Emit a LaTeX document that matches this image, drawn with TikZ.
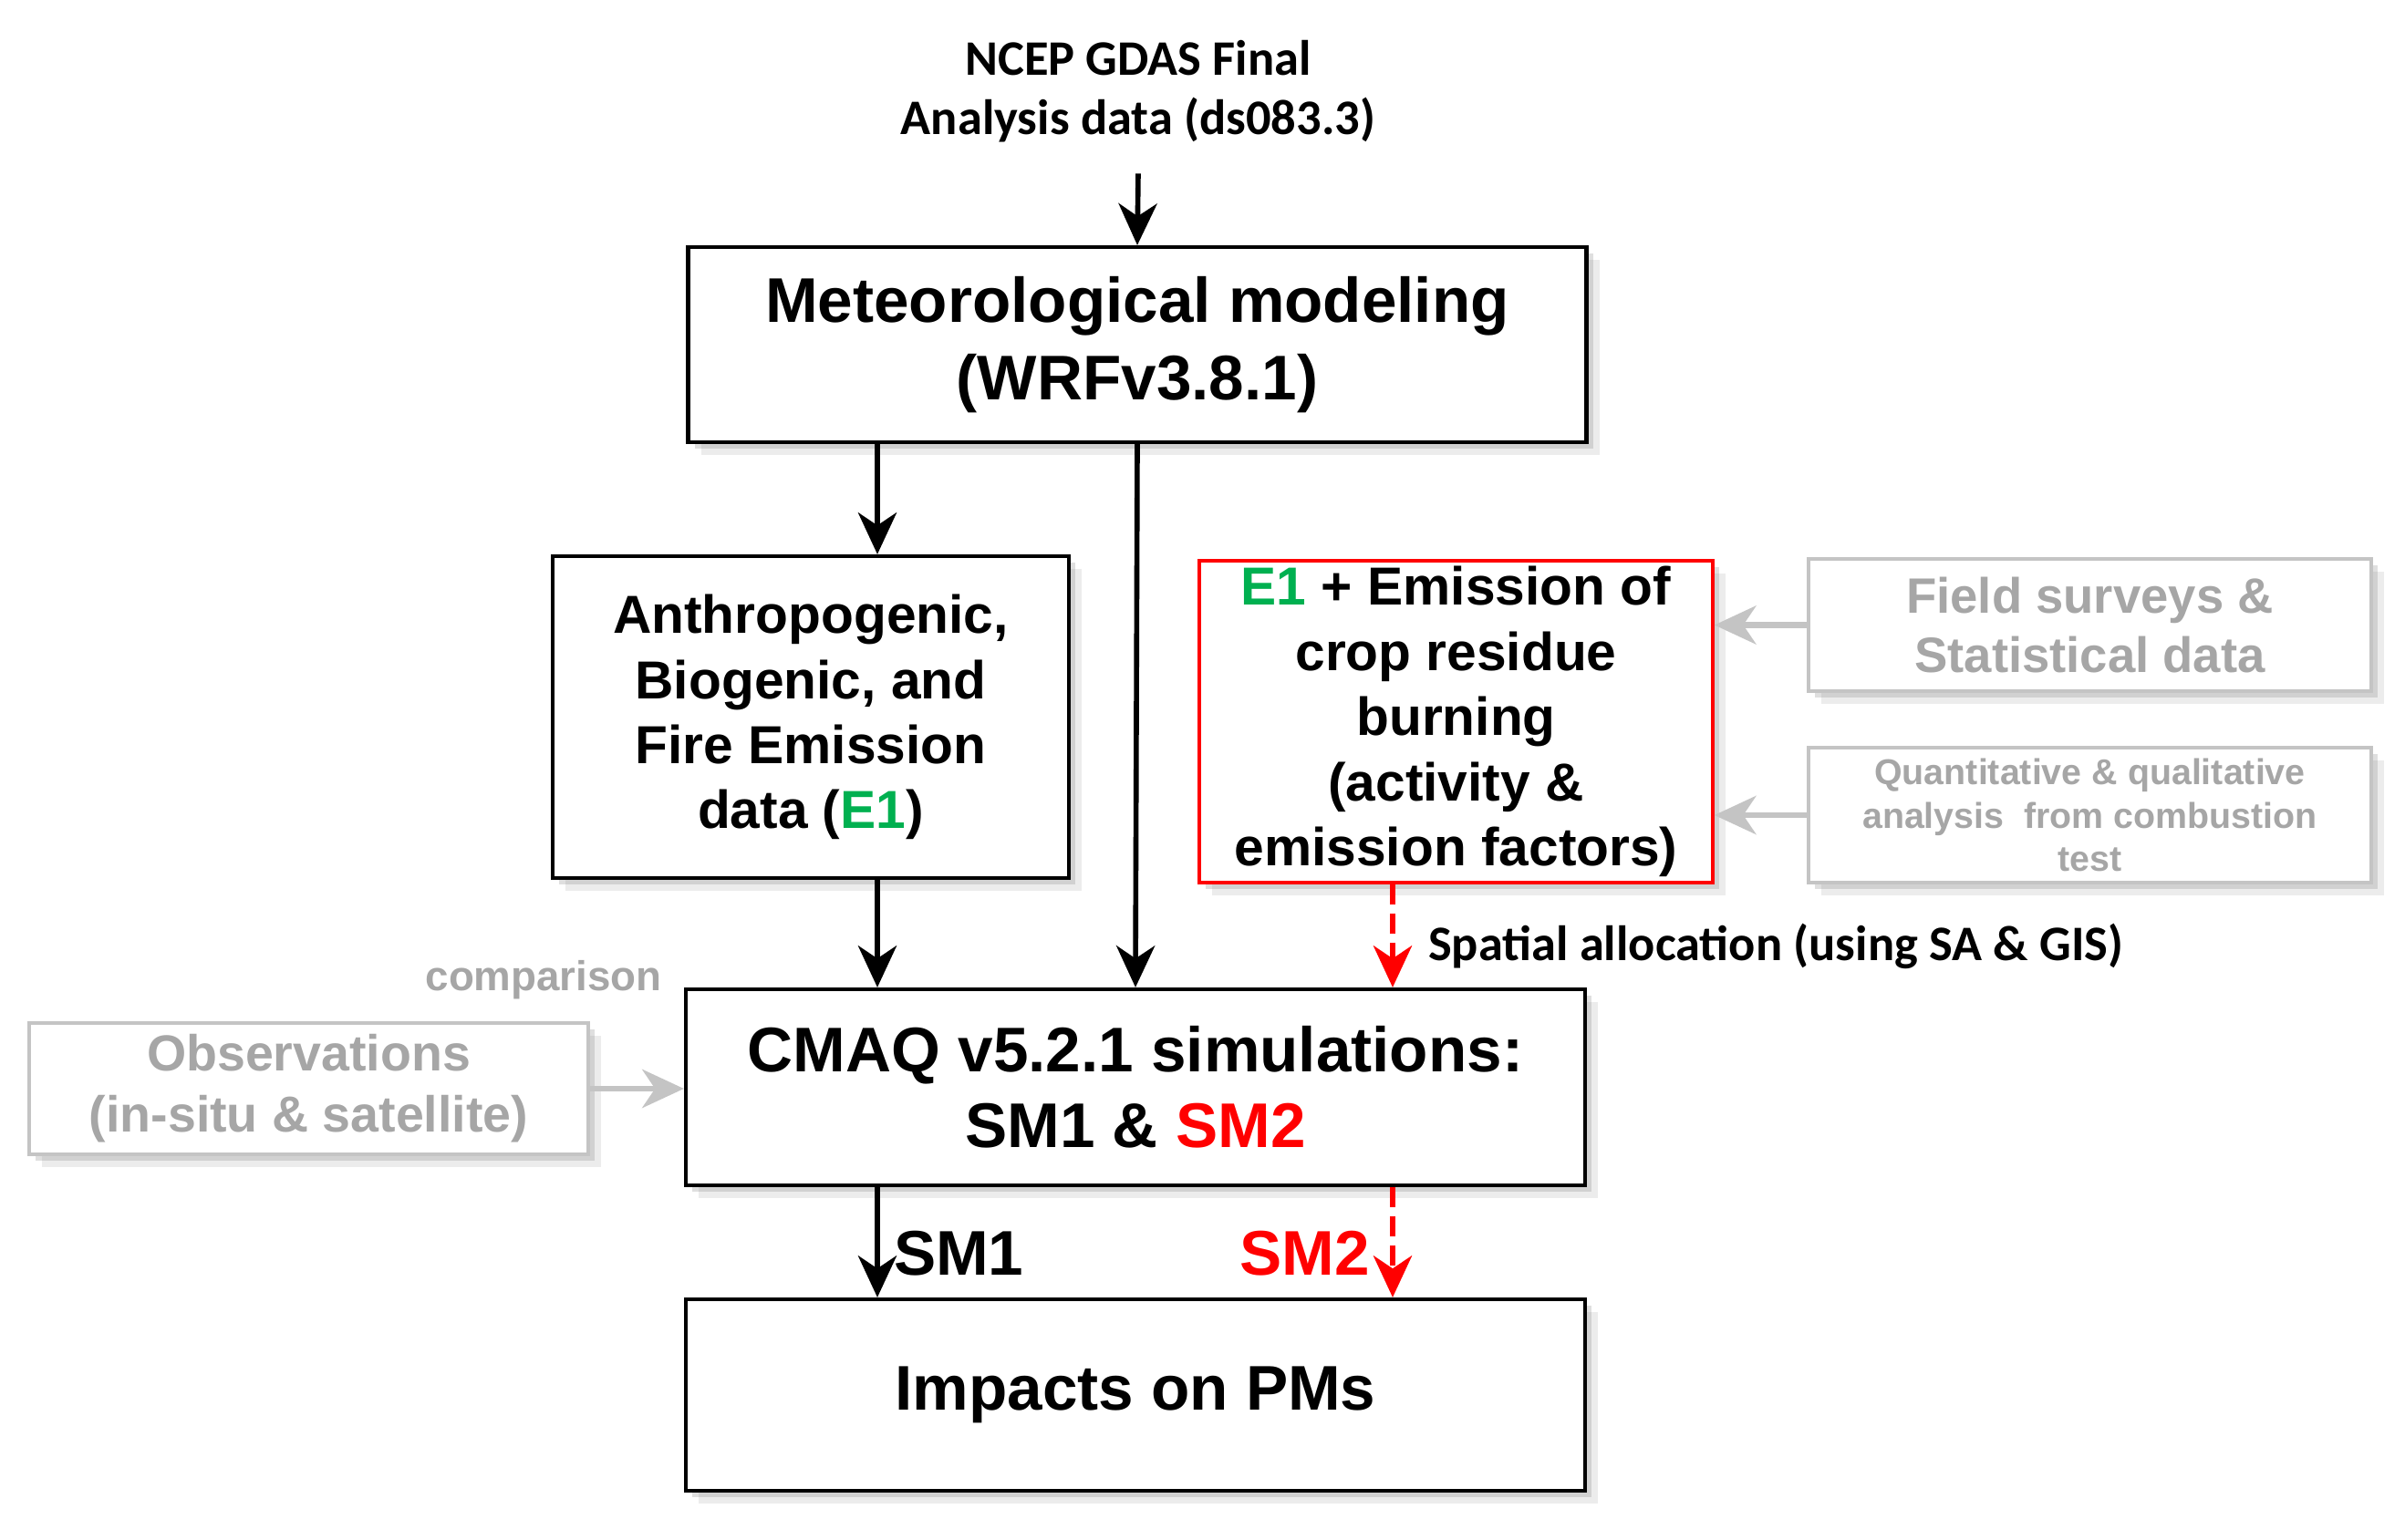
\documentclass[tikz,border=0pt]{standalone}
\usepackage{fontspec}
\setmainfont{Liberation Sans}
\newfontfamily\calib{Carlito}
\usetikzlibrary{arrows.meta,shadows,positioning}
\definecolor{egreen}{RGB}{0,176,80}
\definecolor{ltext}{RGB}{166,166,166}
\definecolor{lline}{RGB}{196,196,196}
\tikzset{>={Stealth[length=13pt,width=12pt,inset=4pt]}}

\begin{document}
\begin{tikzpicture}[soft/.style={drop shadow={shadow xshift=2pt,shadow yshift=-2pt,opacity=0.25},drop shadow={shadow xshift=4pt,shadow yshift=-4pt,opacity=0.15}},
box/.style={draw,line width=1.2pt,fill=white,align=center,inner sep=0pt,soft},
gbox/.style={draw=lline,line width=1pt,fill=white,align=center,text=ltext,inner sep=0pt,soft},
arr/.style={->,line width=1.6pt},
garr/.style={->,line width=1.8pt,draw=lline,fill=lline},
rarr/.style={->,line width=1.6pt,red,dash pattern=on 0.22cm off 0.1cm}]
\useasboundingbox (0,0) rectangle (26.37,-16.89);
% input data
\node[align=center,font=\calib\bfseries\fontsize{15.5}{18.5}\selectfont] (ncep) at (12.48,-1.0) {NCEP GDAS Final\\Analysis data (ds083.3)};
\node[box,minimum width=9.85cm,minimum height=2.14cm,font=\bfseries\fontsize{19.7}{24}\selectfont] (met) at (12.47,-3.78) {Meteorological modeling\\(WRFv3.8.1)};
% emissions
\node[box,minimum width=5.66cm,minimum height=3.53cm,font=\bfseries\fontsize{16.7}{20.3}\selectfont] (anthro) at (8.89,-7.865) {Anthropogenic,\\Biogenic, and\\Fire Emission\\data (\textcolor{egreen}{E1})};
\node[box,draw=red,line width=1pt,minimum width=5.63cm,minimum height=3.53cm,font=\bfseries\fontsize{16.7}{20.3}\selectfont] (crop) at (15.965,-7.915) {\textcolor{egreen}{E1} + Emission of\\crop residue\\burning\\(activity \&\\emission factors)};
\node[gbox,minimum width=6.17cm,minimum height=1.45cm,font=\bfseries\fontsize{15.5}{18.7}\selectfont] (field) at (22.915,-6.855) {Field surveys \&\\Statistical data};
\node[gbox,minimum width=6.17cm,minimum height=1.48cm,font=\bfseries\fontsize{11.2}{13.6}\selectfont] (quant) at (22.915,-8.94) {Quantitative \& qualitative\\analysis\ \ from combustion\\test};
% simulations
\node[box,minimum width=9.86cm,minimum height=2.15cm,font=\bfseries\fontsize{19.7}{23.5}\selectfont] (cmaq) at (12.45,-11.925) {CMAQ v5.2.1 simulations:\\SM1 \& \textcolor{red}{SM2}};
\node[gbox,minimum width=6.13cm,minimum height=1.44cm,font=\bfseries\fontsize{15.8}{19}\selectfont] (obs) at (3.385,-11.94) {Observations\\(in-situ \& satellite)};
\node[anchor=east,text=ltext,font=\bfseries\fontsize{13}{15}\selectfont] (comp) at (7.38,-10.75) {comparison};
\node[box,minimum width=9.86cm,minimum height=2.10cm,font=\bfseries\fontsize{19.7}{24}\selectfont] (pm) at (12.45,-15.30) {Impacts on PMs};
\coordinate (lx) at (9.62,0);
\coordinate (rx) at (15.27,0);
\draw[arr] ([yshift=-0.22cm]ncep.south) -- (met.north);
\draw[arr] (met.south -| lx) -- (anthro.north -| lx);
\draw[arr] (anthro.south -| lx) -- (cmaq.north -| lx);
\draw[arr] (met.south) -- (cmaq.north);
\draw[rarr] (crop.south -| rx) -- node[right=7pt,pos=0.6,black,font=\calib\bfseries\fontsize{15.5}{18.5}\selectfont] (sa) {Spatial allocation (using SA \& GIS)} (cmaq.north -| rx);
\draw[garr] (field.west) -- (field.west -| crop.east);
\draw[garr] (quant.west) -- (quant.west -| crop.east);
\draw[garr] (obs.east) -- (obs.east -| cmaq.west);
\draw[arr] (cmaq.south -| lx) -- node[right=1pt,pos=0.6,font=\bfseries\fontsize{19.7}{24}\selectfont] (sm1) {SM1} (pm.north -| lx);
\draw[rarr] (cmaq.south -| rx) -- node[left=3pt,pos=0.6,font=\bfseries\fontsize{19.7}{24}\selectfont] (sm2) {SM2} (pm.north -| rx);
\end{tikzpicture}
\end{document}
